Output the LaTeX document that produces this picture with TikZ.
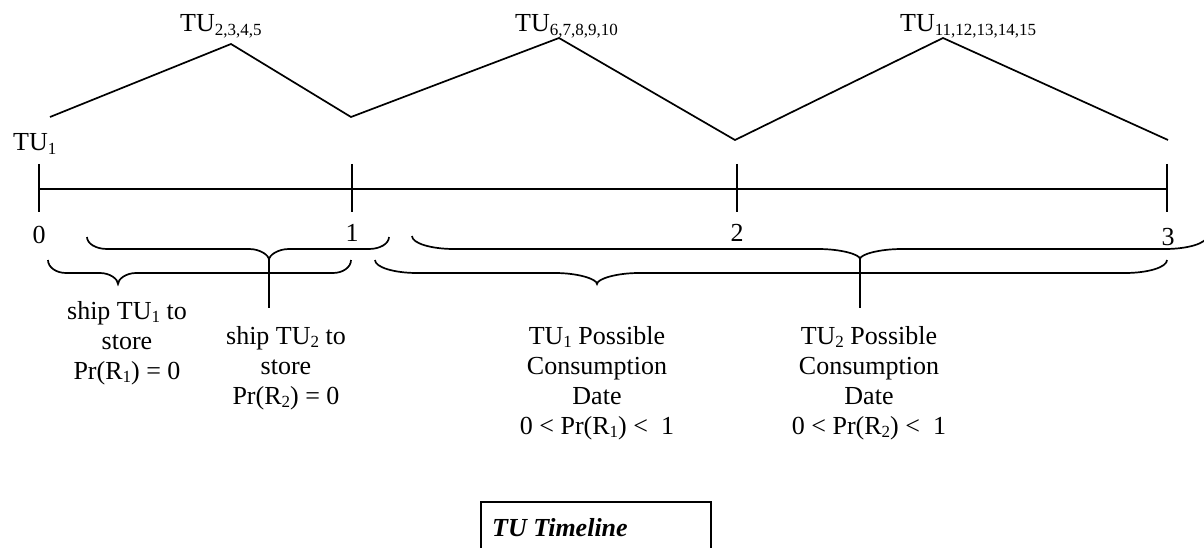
\documentclass[tikz,border=0pt]{standalone}
\usepackage{fontspec}
\setmainfont{Liberation Serif}

% subscript index in the style of a word processor
\newcommand\lowidx[1]{\raisebox{-3.5pt}{\fontsize{17}{17}\selectfont #1}}

% horizontal curly brace opening upwards:
% #1 left x, #2 right x, #3 tip x, #4 end y, #5 bar y, #6 tip y, #7 curl size
\newcommand\hbrace[7]{%
  \draw[stroke] (#1,#4)
    .. controls (#1,{#4+0.552*(#5-#4)}) and ({#1+0.448*#7},#5) .. ({#1+#7},#5)
    -- ({#3-#7},#5)
    .. controls ({#3-0.448*#7},#5) and (#3,{#6-0.448*(#6-#5)}) .. (#3,#6)
    .. controls (#3,{#6-0.448*(#6-#5)}) and ({#3+0.448*#7},#5) .. ({#3+#7},#5)
    -- ({#2-#7},#5)
    .. controls ({#2-0.448*#7},#5) and (#2,{#4+0.552*(#5-#4)}) .. (#2,#4);}

\tikzset{
  stroke/.style={line width=1.7pt, black},
  txt/.style={inner sep=0pt, font=\fontsize{26}{30}\selectfont},
  block/.style={txt, align=center, anchor=north},
}

\begin{document}
\begin{tikzpicture}[x=1pt, y=-1pt]
\useasboundingbox (0,0) rectangle (1204,548);

% stock level zigzag
\coordinate (z0) at (50,117);
\coordinate (z1) at (231,44);
\coordinate (z2) at (351,117);
\coordinate (z3) at (559,38);
\coordinate (z4) at (735,140);
\coordinate (z5) at (943,38);
\coordinate (z6) at (1168,140);
\draw[stroke] (z0) -- (z1) -- (z2) -- (z3) -- (z4) -- (z5) -- (z6);

\node[txt, anchor=base west] (tu1) at (13,151) {TU\lowidx{1}};
\node[txt, anchor=base west] (tua) at (180,32) {TU\lowidx{2,3,4,5}};
\node[txt, anchor=base west] (tub) at (515,32) {TU\lowidx{6,7,8,9,10}};
\node[txt, anchor=base west] (tuc) at (900,32) {TU\lowidx{11,12,13,14,15}};

% time axis with ticks
\coordinate (a0) at (39,189);
\coordinate (a3) at (1167,189);
\draw[stroke] (a0) -- (a3);
\foreach \x/\n in {39/t0, 352/t1, 737/t2, 1167/t3}{
  \coordinate (\n top) at (\x,164);
  \coordinate (\n bot) at (\x,212);
  \draw[stroke] (\n top) -- (\n bot);
}

\node[txt, anchor=base] (n0) at (39,243) {0};
\node[txt, anchor=base] (n1) at (352,241) {1};
\node[txt, anchor=base] (n2) at (737,241) {2};
\node[txt, anchor=base] (n3) at (1168,245) {3};

% braces for the shipping and consumption periods
\hbrace{48}{351}{118}{260}{273}{284}{18}
\hbrace{87}{389}{269}{237}{249}{260}{20}
\hbrace{375}{1167}{597}{260}{273}{284}{42}
\hbrace{412}{1207}{860}{236}{249}{259}{42}

\coordinate (stemBtop) at (269,260);
\coordinate (stemBbot) at (269,308);
\draw[stroke] (stemBtop) -- (stemBbot);
\coordinate (stemDtop) at (860,259);
\coordinate (stemDbot) at (860,308);
\draw[stroke] (stemDtop) -- (stemDbot);

% period descriptions
\node[block] (ship1) at (127,301) {ship TU\lowidx{1} to\\store\\Pr(R\lowidx{1}) = 0};
\node[block] (ship2) at (286,326) {ship TU\lowidx{2} to\\store\\Pr(R\lowidx{2}) = 0};
\node[block] (cons1) at (597,326) {TU\lowidx{1} Possible\\Consumption\\Date\\0 {<} Pr(R\lowidx{1}) {<}\ \ 1};
\node[block] (cons2) at (869,326) {TU\lowidx{2} Possible\\Consumption\\Date\\0 {<} Pr(R\lowidx{2}) {<}\ \ 1};

% caption box
\draw[stroke] (481,550) -- (481,502) -- (711,502) -- (711,550);
\node[txt, anchor=base west, font=\fontsize{26}{30}\selectfont\bfseries\itshape] (cap) at (492,536) {TU Timeline};
\end{tikzpicture}
\end{document}
